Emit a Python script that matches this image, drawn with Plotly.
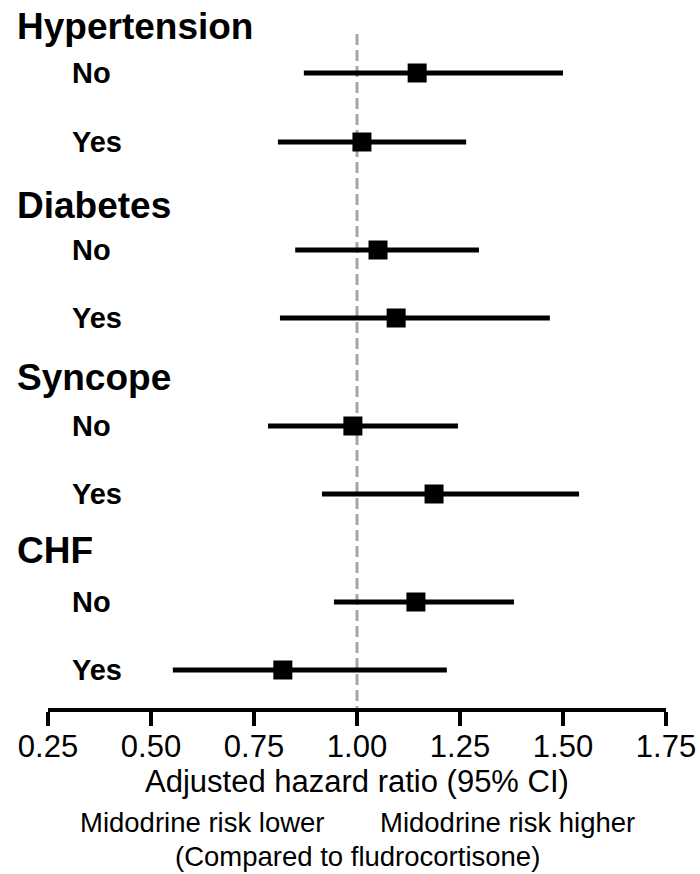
import plotly.graph_objects as go

# ---- data ----
groups = ["Hypertension", "Diabetes", "Syncope", "CHF"]
levels = ["No", "Yes"]
hr = [1.146, 1.012, 1.051, 1.095, 0.990, 1.187, 1.143, 0.820]
ci_low = [0.871, 0.808, 0.850, 0.813, 0.784, 0.915, 0.944, 0.553]
ci_high = [1.500, 1.265, 1.296, 1.468, 1.245, 1.539, 1.381, 1.218]
tick_vals = [0.25, 0.50, 0.75, 1.00, 1.25, 1.50, 1.75]
tick_text = ["0.25", "0.50", "0.75", "1.00", "1.25", "1.50", "1.75"]

# ---- layout positions (y axis runs top->bottom) ----
header_pos = [26, 205, 377, 550]
row_pos = [73, 142, 250, 318, 426, 494, 602, 670]
Y_BOTTOM = 708
W, H = 700, 874
ML, MR = 48, 34
plot_w = W - ML - MR

def px_x(p):
    return (p - ML) / plot_w

def px_y(p):
    return (Y_BOTTOM - p) / Y_BOTTOM

fig = go.Figure()

# CI lines
xs, ys = [], []
for lo, hi, y in zip(ci_low, ci_high, row_pos):
    xs += [lo, hi, None]
    ys += [y, y, None]
fig.add_trace(go.Scatter(x=xs, y=ys, mode="lines",
                         line=dict(color="black", width=5),
                         hoverinfo="skip", showlegend=False))
# point estimates
fig.add_trace(go.Scatter(x=hr, y=row_pos, mode="markers",
                         marker=dict(symbol="square", size=19, color="black",
                                     line=dict(width=0)),
                         showlegend=False))

# reference line
fig.add_shape(type="line", xref="x", yref="y", x0=1.0, x1=1.0, y0=34, y1=Y_BOTTOM,
              line=dict(color="#a6a6a6", width=3, dash="11px,5px"), layer="below")

ann = []
for g, yp in zip(groups, header_pos):
    ann.append(dict(text=f"<b>{g}</b>", x=px_x(15), y=yp, xref="paper", yref="y",
                    xanchor="left", yanchor="middle", showarrow=False,
                    font=dict(size=37, color="black", family="Liberation Sans, Arial")))
for i, yp in enumerate(row_pos):
    ann.append(dict(text=f"<b>{levels[i % 2]}</b>", x=px_x(70), y=yp, xref="paper", yref="y",
                    xanchor="left", yanchor="middle", showarrow=False,
                    font=dict(size=29, color="black", family="Liberation Sans, Arial")))

ann.append(dict(text="Adjusted hazard ratio (95% CI)", x=px_x(357), y=px_y(781),
                xref="paper", yref="paper", xanchor="center", yanchor="middle",
                showarrow=False, font=dict(size=31, color="black")))
ann.append(dict(text="Midodrine risk lower", x=px_x(202), y=px_y(822),
                xref="paper", yref="paper", xanchor="center", yanchor="middle",
                showarrow=False, font=dict(size=27.5, color="black")))
ann.append(dict(text="Midodrine risk higher", x=px_x(507), y=px_y(822),
                xref="paper", yref="paper", xanchor="center", yanchor="middle",
                showarrow=False, font=dict(size=27.5, color="black")))
ann.append(dict(text="(Compared to fludrocortisone)", x=px_x(357), y=px_y(856),
                xref="paper", yref="paper", xanchor="center", yanchor="middle",
                showarrow=False, font=dict(size=27.5, color="black")))

fig.update_layout(
    width=W, height=H,
    margin=dict(l=ML, r=MR, t=0, b=H - Y_BOTTOM, pad=0),
    paper_bgcolor="white", plot_bgcolor="white",
    font=dict(family="Liberation Sans, Arial", color="black"),
    annotations=ann,
    xaxis=dict(range=[0.25, 1.75], tickvals=tick_vals, ticktext=tick_text,
               showgrid=False, zeroline=False, showline=True, linecolor="black",
               linewidth=4, ticks="outside", ticklen=14, tickwidth=4, tickcolor="black",
               tickfont=dict(size=31, color="black"), ticklabelstandoff=-6,
               fixedrange=True),
    yaxis=dict(range=[Y_BOTTOM, 0], visible=False, showgrid=False, zeroline=False,
               fixedrange=True),
)

fig.write_html("out.html", config={"displayModeBar": False},
               post_script="document.body.style.margin='0';")
